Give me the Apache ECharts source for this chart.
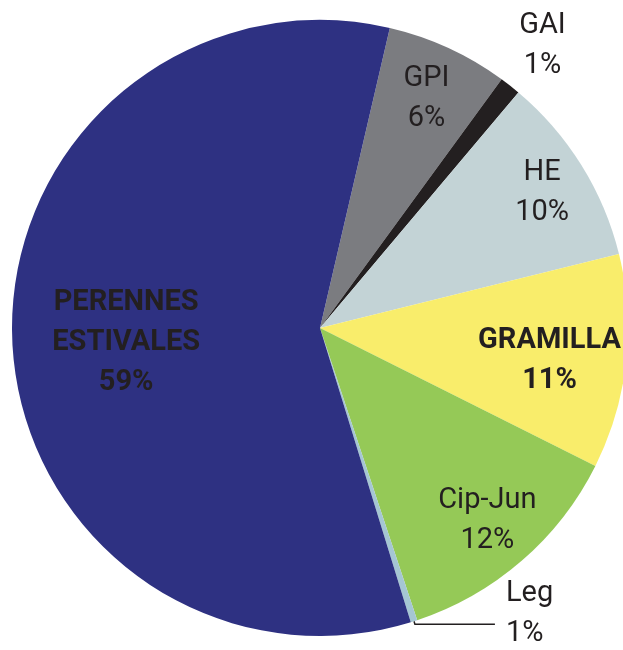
<!DOCTYPE html>
<html>
<head>
<meta charset="utf-8">
<script src="https://cdn.jsdelivr.net/npm/echarts@6/dist/echarts.min.js"></script>
<style>
  html, body { margin: 0; padding: 0; background: #fff; }
  #pie { width: 623px; height: 650px; }
</style>
</head>
<body>
<div id="pie"></div>
<script>
// grupos funcionales, clockwise from the top
var groups = ['GPI', 'GAI', 'HE', 'GRAMILLA', 'Cip-Jun', 'Leg', 'PERENNES\nESTIVALES'];
var shares = [6.4, 1.1, 10.0, 11.25, 12.5, 0.35, 58.4];
var printed = ['6%', '1%', '10%', '11%', '12%', '1%', '59%'];
var colors = ['#7b7c80', '#231f20', '#c3d3d6', '#f9ed6b', '#95c957', '#a5c6d3', '#2e3182'];

var R = 308;
var firstEdge = 13.1;                       // degrees clockwise from 12 o'clock
var labelFrac = [0.82, 1.16, 0.84, 0.74, 0.82, 0, 0.62];
var labelNudge = [3, 1, 3, 7, 0, 0, 8];     // small vertical tweak, px
var boldLabel = [false, false, false, true, false, false, true];

var total = 0;
shares.forEach(function (v) { total += v; });

var cum = 0;
var data = [];
shares.forEach(function (v, i) {
    var mid = (firstEdge + 360 * (cum + v / 2) / total) * Math.PI / 180;
    cum += v;
    var k = (labelFrac[i] - 0.5) * R;
    var item = {
        name: groups[i],
        value: v,
        itemStyle: {color: colors[i]},
        label: {
            show: true,
            position: 'inside',
            offset: [k * Math.sin(mid), -k * Math.cos(mid) + labelNudge[i]],
            formatter: groups[i] + '\n' + printed[i],
            fontWeight: boldLabel[i] ? 'bold' : 'normal'
        },
        labelLine: {show: false}
    };
    if (groups[i] === 'Leg') {
        item.label = {
            show: true,
            position: 'outside',
            align: 'left',
            offset: [6, -10],
            formatter: groups[i] + '\n' + printed[i]
        };
        item.labelLine = {
            show: true,
            length: 3,
            length2: 80,
            lineStyle: {color: '#231f20', width: 1.5}
        };
    }
    data.push(item);
});

var myChart = echarts.init(document.getElementById('pie'));
myChart.setOption({
    animation: false,
    series: [
        {
            type: 'pie',
            center: [320, 328],
            radius: [0, R],
            startAngle: 90 - firstEdge,
            clockwise: true,
            avoidLabelOverlap: false,
            minAngle: 0,
            label: {
                color: '#231f20',
                fontFamily: 'Roboto',
                fontSize: 29,
                lineHeight: 40
            },
            itemStyle: {borderWidth: 0},
            emphasis: {disabled: true},
            data: data
        }
    ]
});
</script>
</body>
</html>
